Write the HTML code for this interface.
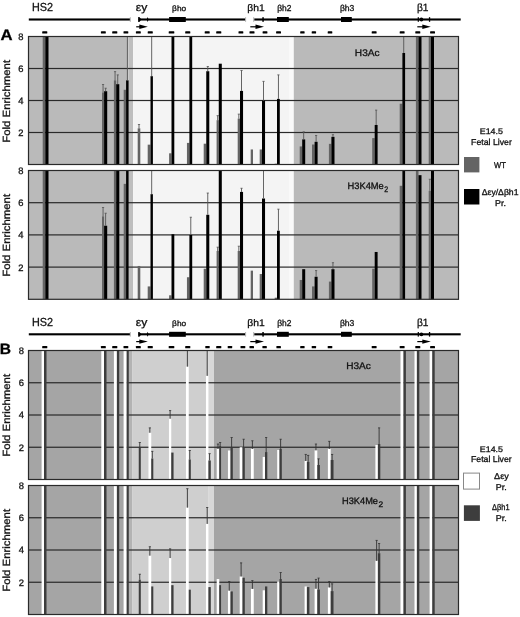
<!DOCTYPE html>
<html><head><meta charset="utf-8"><style>
html,body{margin:0;padding:0;background:#fff;width:520px;height:617px;overflow:hidden}
svg{display:block;filter:grayscale(1) blur(0.35px)} text{stroke:#111;stroke-width:0.3px}
</style></head><body>
<svg width="520" height="617" viewBox="0 0 520 617" font-family='"Liberation Sans", sans-serif' text-rendering="geometricPrecision">
<rect x="0.00" y="0.00" width="520.00" height="617.00" fill="#fff" />
<rect x="28.80" y="18.45" width="101.20" height="2.10" fill="#000" />
<rect x="138.50" y="18.45" width="106.80" height="2.10" fill="#000" />
<rect x="254.20" y="18.45" width="206.50" height="2.10" fill="#000" />
<rect x="129.80" y="17.20" width="1.00" height="4.60" fill="#b0b0b0" />
<rect x="245.10" y="17.20" width="1.00" height="4.60" fill="#b0b0b0" />
<rect x="253.20" y="17.20" width="1.00" height="4.60" fill="#b0b0b0" />
<polygon points="138.2,17.1 139.4,17.1 141.4,19.5 139.4,21.9 138.2,21.9" fill="#000"/>
<polygon points="147.6,17.0 148.6,19.5 147.6,22.0 146.7,19.5" fill="#000"/>
<rect x="169.10" y="17.00" width="16.70" height="5.00" fill="#000" />
<rect x="262.30" y="17.20" width="1.50" height="4.60" fill="#000" />
<rect x="277.00" y="17.00" width="11.80" height="5.00" fill="#000" />
<rect x="341.00" y="17.00" width="10.80" height="5.00" fill="#000" />
<rect x="417.70" y="17.20" width="1.20" height="4.60" fill="#000" />
<circle cx="421.4" cy="19.5" r="1.9" fill="#000"/>
<rect x="428.90" y="17.20" width="1.30" height="4.60" fill="#000" />
<rect x="136.20" y="26.20" width="5.60" height="1.20" fill="#000" />
<polygon points="139.3,24.6 147.8,26.8 139.3,29.0" fill="#000"/>
<rect x="250.30" y="26.20" width="7.70" height="1.20" fill="#000" />
<polygon points="255.5,24.6 264.0,26.8 255.5,29.0" fill="#000"/>
<rect x="417.30" y="26.20" width="7.50" height="1.20" fill="#000" />
<polygon points="422.3,24.6 430.8,26.8 422.3,29.0" fill="#000"/>
<text x="32.01" y="11.00" font-size="11.7" font-weight="normal" fill="#111" textLength="21.03" lengthAdjust="spacingAndGlyphs" >HS2</text>
<text x="135.78" y="10.80" font-size="11.2" font-weight="normal" fill="#111" textLength="11.54" lengthAdjust="spacingAndGlyphs" >εy</text>
<text x="172.12" y="10.80" font-size="7.8" font-weight="normal" fill="#111" textLength="14.03" lengthAdjust="spacingAndGlyphs" >βho</text>
<text x="247.28" y="10.80" font-size="9.6" font-weight="normal" fill="#111" textLength="17.42" lengthAdjust="spacingAndGlyphs" >βh1</text>
<text x="277.22" y="11.40" font-size="8.6" font-weight="normal" fill="#111" textLength="14.21" lengthAdjust="spacingAndGlyphs" >βh2</text>
<text x="339.91" y="11.40" font-size="8.6" font-weight="normal" fill="#111" textLength="14.47" lengthAdjust="spacingAndGlyphs" >βh3</text>
<text x="417.00" y="10.80" font-size="10.5" font-weight="normal" fill="#111" textLength="11.50" lengthAdjust="spacingAndGlyphs" >β1</text>
<rect x="42.20" y="31.15" width="5.10" height="2.40" fill="#000" rx="0.6"/>
<rect x="100.90" y="31.15" width="4.90" height="2.40" fill="#000" rx="0.6"/>
<rect x="112.20" y="31.15" width="5.10" height="2.40" fill="#000" rx="0.6"/>
<rect x="123.50" y="31.15" width="4.80" height="2.40" fill="#000" rx="0.6"/>
<rect x="135.90" y="31.15" width="4.90" height="2.40" fill="#000" rx="0.6"/>
<rect x="147.70" y="31.15" width="5.10" height="2.40" fill="#000" rx="0.6"/>
<rect x="168.70" y="31.15" width="5.60" height="2.40" fill="#000" rx="0.6"/>
<rect x="185.20" y="31.15" width="5.10" height="2.40" fill="#000" rx="0.6"/>
<rect x="204.70" y="31.15" width="5.00" height="2.40" fill="#000" rx="0.6"/>
<rect x="216.20" y="31.15" width="5.10" height="2.40" fill="#000" rx="0.6"/>
<rect x="238.50" y="31.15" width="4.80" height="2.40" fill="#000" rx="0.6"/>
<rect x="249.50" y="31.15" width="5.00" height="2.40" fill="#000" rx="0.6"/>
<rect x="262.60" y="31.15" width="4.80" height="2.40" fill="#000" rx="0.6"/>
<rect x="276.10" y="31.15" width="4.90" height="2.40" fill="#000" rx="0.6"/>
<rect x="300.20" y="31.15" width="4.40" height="2.40" fill="#000" rx="0.6"/>
<rect x="311.70" y="31.15" width="4.40" height="2.40" fill="#000" rx="0.6"/>
<rect x="327.70" y="31.15" width="4.60" height="2.40" fill="#000" rx="0.6"/>
<rect x="371.70" y="31.15" width="4.90" height="2.40" fill="#000" rx="0.6"/>
<rect x="399.70" y="31.15" width="4.90" height="2.40" fill="#000" rx="0.6"/>
<rect x="415.30" y="31.15" width="5.00" height="2.40" fill="#000" rx="0.6"/>
<rect x="430.10" y="31.15" width="4.90" height="2.40" fill="#000" rx="0.6"/>
<text x="0.45" y="39.85" font-size="15.3" font-weight="bold" fill="#000" textLength="12.09" lengthAdjust="spacingAndGlyphs" >A</text>
<rect x="28.50" y="36.50" width="99.80" height="128.00" fill="#bababa" />
<rect x="128.30" y="36.50" width="4.80" height="128.00" fill="#bebebe" />
<rect x="133.10" y="36.50" width="156.50" height="128.00" fill="#f4f4f4" />
<rect x="289.60" y="36.50" width="4.20" height="128.00" fill="#fafafa" />
<rect x="293.80" y="36.50" width="164.70" height="128.00" fill="#bababa" />
<rect x="28.50" y="131.90" width="430.00" height="1.20" fill="#2a2a2a" />
<rect x="28.50" y="99.90" width="430.00" height="1.20" fill="#2a2a2a" />
<rect x="28.50" y="67.90" width="430.00" height="1.20" fill="#2a2a2a" />
<rect x="42.70" y="36.50" width="2.60" height="128.00" fill="#646464" />
<rect x="45.30" y="36.50" width="3.20" height="128.00" fill="#000000" />
<rect x="102.00" y="92.50" width="2.10" height="72.00" fill="#646464" />
<rect x="102.60" y="84.50" width="0.90" height="8.00" fill="#555" />
<rect x="101.95" y="84.10" width="2.20" height="0.80" fill="#555" />
<rect x="104.10" y="91.22" width="3.10" height="73.28" fill="#000000" />
<rect x="105.20" y="88.18" width="0.90" height="3.04" fill="#555" />
<rect x="104.55" y="87.78" width="2.20" height="0.80" fill="#555" />
<rect x="113.90" y="80.34" width="2.30" height="84.16" fill="#646464" />
<rect x="114.60" y="71.70" width="0.90" height="8.64" fill="#555" />
<rect x="113.95" y="71.30" width="2.20" height="0.80" fill="#555" />
<rect x="116.20" y="84.18" width="3.10" height="80.32" fill="#000000" />
<rect x="117.30" y="74.90" width="0.90" height="9.28" fill="#555" />
<rect x="116.65" y="74.50" width="2.20" height="0.80" fill="#555" />
<rect x="123.70" y="89.78" width="2.40" height="74.72" fill="#646464" />
<rect x="126.10" y="80.34" width="2.50" height="84.16" fill="#000000" />
<rect x="126.90" y="36.50" width="0.90" height="43.84" fill="#555" />
<rect x="137.70" y="128.34" width="2.60" height="36.16" fill="#646464" />
<rect x="138.55" y="124.50" width="0.90" height="3.84" fill="#555" />
<rect x="137.90" y="124.10" width="2.20" height="0.80" fill="#555" />
<rect x="147.70" y="144.66" width="2.80" height="19.84" fill="#646464" />
<rect x="150.50" y="76.18" width="2.40" height="88.32" fill="#000000" />
<rect x="151.25" y="36.50" width="0.90" height="39.68" fill="#555" />
<rect x="169.10" y="153.30" width="2.40" height="11.20" fill="#646464" />
<rect x="171.50" y="36.50" width="2.80" height="128.00" fill="#000000" />
<rect x="186.95" y="142.90" width="2.45" height="21.60" fill="#646464" />
<rect x="189.40" y="36.50" width="2.80" height="128.00" fill="#000000" />
<rect x="203.70" y="143.70" width="2.55" height="20.80" fill="#646464" />
<rect x="206.25" y="71.22" width="3.05" height="93.28" fill="#000000" />
<rect x="207.33" y="66.42" width="0.90" height="4.80" fill="#555" />
<rect x="206.68" y="66.02" width="2.20" height="0.80" fill="#555" />
<rect x="216.60" y="120.18" width="2.15" height="44.32" fill="#646464" />
<rect x="217.23" y="115.70" width="0.90" height="4.48" fill="#555" />
<rect x="216.58" y="115.30" width="2.20" height="0.80" fill="#555" />
<rect x="218.75" y="63.70" width="3.05" height="100.80" fill="#000000" />
<rect x="237.70" y="118.58" width="2.30" height="45.92" fill="#646464" />
<rect x="238.40" y="114.10" width="0.90" height="4.48" fill="#555" />
<rect x="237.75" y="113.70" width="2.20" height="0.80" fill="#555" />
<rect x="240.00" y="90.90" width="3.05" height="73.60" fill="#000000" />
<rect x="241.08" y="70.42" width="0.90" height="20.48" fill="#555" />
<rect x="240.43" y="70.02" width="2.20" height="0.80" fill="#555" />
<rect x="250.70" y="149.46" width="2.30" height="15.04" fill="#646464" />
<rect x="259.70" y="149.46" width="2.30" height="15.04" fill="#646464" />
<rect x="262.00" y="100.66" width="3.05" height="63.84" fill="#000000" />
<rect x="263.07" y="81.30" width="0.90" height="19.36" fill="#555" />
<rect x="262.42" y="80.90" width="2.20" height="0.80" fill="#555" />
<rect x="274.70" y="163.70" width="2.30" height="0.80" fill="#646464" />
<rect x="277.00" y="98.90" width="2.80" height="65.60" fill="#000000" />
<rect x="277.95" y="74.90" width="0.90" height="24.00" fill="#555" />
<rect x="277.30" y="74.50" width="2.20" height="0.80" fill="#555" />
<rect x="299.70" y="146.42" width="2.50" height="18.08" fill="#646464" />
<rect x="302.20" y="139.38" width="3.00" height="25.12" fill="#000000" />
<rect x="303.25" y="131.86" width="0.90" height="7.52" fill="#555" />
<rect x="302.60" y="131.46" width="2.20" height="0.80" fill="#555" />
<rect x="312.00" y="144.50" width="2.60" height="20.00" fill="#646464" />
<rect x="314.60" y="141.78" width="3.00" height="22.72" fill="#000000" />
<rect x="315.65" y="135.38" width="0.90" height="6.40" fill="#555" />
<rect x="315.00" y="134.98" width="2.20" height="0.80" fill="#555" />
<rect x="328.90" y="143.86" width="2.50" height="20.64" fill="#646464" />
<rect x="331.40" y="136.82" width="3.10" height="27.68" fill="#000000" />
<rect x="332.50" y="134.74" width="0.90" height="2.08" fill="#555" />
<rect x="331.85" y="134.34" width="2.20" height="0.80" fill="#555" />
<rect x="372.20" y="138.10" width="2.50" height="26.40" fill="#646464" />
<rect x="374.70" y="124.98" width="2.90" height="39.52" fill="#000000" />
<rect x="375.70" y="110.10" width="0.90" height="14.88" fill="#555" />
<rect x="375.05" y="109.70" width="2.20" height="0.80" fill="#555" />
<rect x="399.70" y="103.70" width="2.70" height="60.80" fill="#646464" />
<rect x="402.40" y="52.98" width="2.70" height="111.52" fill="#000000" />
<rect x="403.30" y="36.50" width="0.90" height="16.48" fill="#555" />
<rect x="415.90" y="36.50" width="2.60" height="128.00" fill="#646464" />
<rect x="418.50" y="36.50" width="3.00" height="128.00" fill="#000000" />
<rect x="428.70" y="36.50" width="2.30" height="128.00" fill="#646464" />
<rect x="431.00" y="36.50" width="3.00" height="128.00" fill="#000000" />
<rect x="28.5" y="36.5" width="430.0" height="128.0" fill="none" stroke="#2a2a2a" stroke-width="1.2"/>
<text x="18.34" y="135.90" font-size="9.4" font-weight="normal" fill="#111">2</text>
<text x="18.15" y="103.90" font-size="9.4" font-weight="normal" fill="#111">4</text>
<text x="18.29" y="71.90" font-size="9.4" font-weight="normal" fill="#111">6</text>
<text x="18.28" y="39.90" font-size="9.4" font-weight="normal" fill="#111">8</text>
<text x="-0.93" y="0" font-size="10.4" fill="#111" textLength="82.82" lengthAdjust="spacingAndGlyphs" transform="translate(10 141.80) rotate(-90)">Fold Enrichment</text>
<rect x="28.50" y="170.50" width="99.80" height="128.80" fill="#bababa" />
<rect x="128.30" y="170.50" width="4.80" height="128.80" fill="#bebebe" />
<rect x="133.10" y="170.50" width="156.50" height="128.80" fill="#f4f4f4" />
<rect x="289.60" y="170.50" width="4.20" height="128.80" fill="#fafafa" />
<rect x="293.80" y="170.50" width="164.70" height="128.80" fill="#bababa" />
<rect x="28.50" y="266.50" width="430.00" height="1.20" fill="#2a2a2a" />
<rect x="28.50" y="234.30" width="430.00" height="1.20" fill="#2a2a2a" />
<rect x="28.50" y="202.10" width="430.00" height="1.20" fill="#2a2a2a" />
<rect x="42.70" y="170.50" width="2.60" height="128.80" fill="#646464" />
<rect x="45.30" y="170.50" width="3.20" height="128.80" fill="#000000" />
<rect x="102.00" y="216.38" width="2.10" height="82.92" fill="#646464" />
<rect x="102.60" y="207.53" width="0.90" height="8.85" fill="#555" />
<rect x="101.95" y="207.13" width="2.20" height="0.80" fill="#555" />
<rect x="104.10" y="225.72" width="3.10" height="73.58" fill="#000000" />
<rect x="105.20" y="213.17" width="0.90" height="12.56" fill="#555" />
<rect x="104.55" y="212.77" width="2.20" height="0.80" fill="#555" />
<rect x="113.90" y="170.50" width="2.30" height="128.80" fill="#646464" />
<rect x="116.20" y="170.50" width="3.10" height="128.80" fill="#000000" />
<rect x="123.70" y="183.86" width="2.40" height="115.44" fill="#646464" />
<rect x="126.10" y="170.50" width="2.50" height="128.80" fill="#000000" />
<rect x="137.70" y="265.97" width="2.60" height="33.33" fill="#646464" />
<rect x="147.70" y="286.42" width="2.80" height="12.88" fill="#646464" />
<rect x="150.50" y="194.17" width="2.40" height="105.13" fill="#000000" />
<rect x="151.25" y="170.50" width="0.90" height="23.67" fill="#555" />
<rect x="169.10" y="295.28" width="2.40" height="4.02" fill="#646464" />
<rect x="171.50" y="234.26" width="2.80" height="65.04" fill="#000000" />
<rect x="186.95" y="277.24" width="2.45" height="22.06" fill="#646464" />
<rect x="189.40" y="234.90" width="2.80" height="64.40" fill="#000000" />
<rect x="190.35" y="217.19" width="0.90" height="17.71" fill="#555" />
<rect x="189.70" y="216.79" width="2.20" height="0.80" fill="#555" />
<rect x="203.70" y="268.71" width="2.55" height="30.59" fill="#646464" />
<rect x="206.25" y="214.78" width="3.05" height="84.53" fill="#000000" />
<rect x="207.33" y="193.04" width="0.90" height="21.73" fill="#555" />
<rect x="206.68" y="192.64" width="2.20" height="0.80" fill="#555" />
<rect x="216.60" y="251.00" width="2.15" height="48.30" fill="#646464" />
<rect x="217.23" y="247.14" width="0.90" height="3.86" fill="#555" />
<rect x="216.58" y="246.74" width="2.20" height="0.80" fill="#555" />
<rect x="218.75" y="170.50" width="3.05" height="128.80" fill="#000000" />
<rect x="237.70" y="251.00" width="2.30" height="48.30" fill="#646464" />
<rect x="238.40" y="246.17" width="0.90" height="4.83" fill="#555" />
<rect x="237.75" y="245.77" width="2.20" height="0.80" fill="#555" />
<rect x="240.00" y="191.91" width="3.05" height="107.39" fill="#000000" />
<rect x="241.08" y="188.21" width="0.90" height="3.70" fill="#555" />
<rect x="240.43" y="187.81" width="2.20" height="0.80" fill="#555" />
<rect x="250.70" y="270.64" width="2.30" height="28.66" fill="#646464" />
<rect x="259.70" y="274.02" width="2.30" height="25.28" fill="#646464" />
<rect x="262.00" y="198.51" width="3.05" height="100.79" fill="#000000" />
<rect x="263.07" y="170.50" width="0.90" height="28.01" fill="#555" />
<rect x="274.70" y="297.69" width="2.30" height="1.61" fill="#646464" />
<rect x="277.00" y="230.71" width="2.80" height="68.59" fill="#000000" />
<rect x="277.95" y="209.14" width="0.90" height="21.57" fill="#555" />
<rect x="277.30" y="208.74" width="2.20" height="0.80" fill="#555" />
<rect x="299.70" y="279.98" width="2.50" height="19.32" fill="#646464" />
<rect x="302.20" y="269.19" width="3.00" height="30.11" fill="#000000" />
<rect x="312.00" y="286.42" width="2.60" height="12.88" fill="#646464" />
<rect x="314.60" y="276.76" width="3.00" height="22.54" fill="#000000" />
<rect x="315.65" y="270.64" width="0.90" height="6.12" fill="#555" />
<rect x="315.00" y="270.24" width="2.20" height="0.80" fill="#555" />
<rect x="328.90" y="281.59" width="2.50" height="17.71" fill="#646464" />
<rect x="331.40" y="269.19" width="3.10" height="30.11" fill="#000000" />
<rect x="332.50" y="262.75" width="0.90" height="6.44" fill="#555" />
<rect x="331.85" y="262.35" width="2.20" height="0.80" fill="#555" />
<rect x="372.20" y="268.71" width="2.50" height="30.59" fill="#646464" />
<rect x="374.70" y="251.97" width="2.90" height="47.33" fill="#000000" />
<rect x="399.70" y="185.80" width="2.70" height="113.50" fill="#646464" />
<rect x="402.40" y="170.50" width="2.70" height="128.80" fill="#000000" />
<rect x="415.90" y="170.50" width="2.60" height="128.80" fill="#646464" />
<rect x="418.50" y="175.17" width="3.00" height="124.13" fill="#000000" />
<rect x="428.70" y="190.79" width="2.30" height="108.51" fill="#646464" />
<rect x="429.40" y="179.19" width="0.90" height="11.59" fill="#555" />
<rect x="428.75" y="178.79" width="2.20" height="0.80" fill="#555" />
<rect x="431.00" y="170.50" width="3.00" height="128.80" fill="#000000" />
<rect x="28.5" y="170.5" width="430.0" height="128.8" fill="none" stroke="#2a2a2a" stroke-width="1.2"/>
<text x="18.34" y="270.50" font-size="9.4" font-weight="normal" fill="#111">2</text>
<text x="18.15" y="238.30" font-size="9.4" font-weight="normal" fill="#111">4</text>
<text x="18.29" y="206.10" font-size="9.4" font-weight="normal" fill="#111">6</text>
<text x="18.28" y="173.90" font-size="9.4" font-weight="normal" fill="#111">8</text>
<text x="-0.93" y="0" font-size="10.4" fill="#111" textLength="82.82" lengthAdjust="spacingAndGlyphs" transform="translate(10 275.80) rotate(-90)">Fold Enrichment</text>
<text x="354.87" y="55.80" font-size="9.5" font-weight="normal" fill="#111" textLength="24.69" lengthAdjust="spacingAndGlyphs" >H3Ac</text>
<text x="347.54" y="189.00" font-size="9.4" font-weight="normal" fill="#111" textLength="36.28" lengthAdjust="spacingAndGlyphs" >H3K4Me</text>
<text x="384.15" y="191.90" font-size="8" font-weight="normal" fill="#111" textLength="3.91" lengthAdjust="spacingAndGlyphs" >2</text>
<text x="479.77" y="134.10" font-size="8.1" font-weight="normal" fill="#111" textLength="23.20" lengthAdjust="spacingAndGlyphs" >E14.5</text>
<text x="471.08" y="144.70" font-size="8.6" font-weight="normal" fill="#111" textLength="40.81" lengthAdjust="spacingAndGlyphs" >Fetal Liver</text>
<rect x="464.00" y="157.00" width="15.40" height="15.40" fill="#646464" />
<text x="494.07" y="167.70" font-size="8.4" font-weight="normal" fill="#111" textLength="11.81" lengthAdjust="spacingAndGlyphs" >WT</text>
<rect x="464.00" y="189.00" width="15.40" height="15.50" fill="#000" />
<text x="481.74" y="195.10" font-size="8.4" font-weight="normal" fill="#111" textLength="36.78" lengthAdjust="spacingAndGlyphs" >Δεy/Δβh1</text>
<text x="495.10" y="205.80" font-size="8.4" font-weight="normal" fill="#111" textLength="10.88" lengthAdjust="spacingAndGlyphs" >Pr.</text>
<rect x="28.80" y="333.25" width="101.20" height="2.10" fill="#000" />
<rect x="138.50" y="333.25" width="106.80" height="2.10" fill="#000" />
<rect x="254.20" y="333.25" width="206.50" height="2.10" fill="#000" />
<rect x="129.80" y="332.00" width="1.00" height="4.60" fill="#b0b0b0" />
<rect x="245.10" y="332.00" width="1.00" height="4.60" fill="#b0b0b0" />
<rect x="253.20" y="332.00" width="1.00" height="4.60" fill="#b0b0b0" />
<polygon points="138.2,331.90000000000003 139.4,331.90000000000003 141.4,334.3 139.4,336.7 138.2,336.7" fill="#000"/>
<polygon points="147.6,331.8 148.6,334.3 147.6,336.8 146.7,334.3" fill="#000"/>
<rect x="169.10" y="331.80" width="16.70" height="5.00" fill="#000" />
<rect x="262.30" y="332.00" width="1.50" height="4.60" fill="#000" />
<rect x="277.00" y="331.80" width="11.80" height="5.00" fill="#000" />
<rect x="341.00" y="331.80" width="10.80" height="5.00" fill="#000" />
<rect x="417.70" y="332.00" width="1.20" height="4.60" fill="#000" />
<circle cx="421.4" cy="334.3" r="1.9" fill="#000"/>
<rect x="428.90" y="332.00" width="1.30" height="4.60" fill="#000" />
<rect x="136.20" y="341.00" width="5.60" height="1.20" fill="#000" />
<polygon points="139.3,339.40000000000003 147.8,341.6 139.3,343.8" fill="#000"/>
<rect x="250.30" y="341.00" width="7.70" height="1.20" fill="#000" />
<polygon points="255.5,339.40000000000003 264.0,341.6 255.5,343.8" fill="#000"/>
<rect x="417.30" y="341.00" width="7.50" height="1.20" fill="#000" />
<polygon points="422.3,339.40000000000003 430.8,341.6 422.3,343.8" fill="#000"/>
<text x="32.01" y="325.80" font-size="11.7" font-weight="normal" fill="#111" textLength="21.03" lengthAdjust="spacingAndGlyphs" >HS2</text>
<text x="135.78" y="325.60" font-size="11.2" font-weight="normal" fill="#111" textLength="11.54" lengthAdjust="spacingAndGlyphs" >εy</text>
<text x="172.12" y="325.60" font-size="7.8" font-weight="normal" fill="#111" textLength="14.03" lengthAdjust="spacingAndGlyphs" >βho</text>
<text x="247.28" y="325.60" font-size="9.6" font-weight="normal" fill="#111" textLength="17.42" lengthAdjust="spacingAndGlyphs" >βh1</text>
<text x="277.22" y="326.20" font-size="8.6" font-weight="normal" fill="#111" textLength="14.21" lengthAdjust="spacingAndGlyphs" >βh2</text>
<text x="339.91" y="326.20" font-size="8.6" font-weight="normal" fill="#111" textLength="14.47" lengthAdjust="spacingAndGlyphs" >βh3</text>
<text x="417.00" y="325.60" font-size="10.5" font-weight="normal" fill="#111" textLength="11.50" lengthAdjust="spacingAndGlyphs" >β1</text>
<rect x="42.20" y="345.95" width="5.10" height="2.40" fill="#000" rx="0.6"/>
<rect x="100.90" y="345.95" width="4.90" height="2.40" fill="#000" rx="0.6"/>
<rect x="112.20" y="345.95" width="5.10" height="2.40" fill="#000" rx="0.6"/>
<rect x="123.50" y="345.95" width="4.80" height="2.40" fill="#000" rx="0.6"/>
<rect x="135.90" y="345.95" width="4.90" height="2.40" fill="#000" rx="0.6"/>
<rect x="147.70" y="345.95" width="5.10" height="2.40" fill="#000" rx="0.6"/>
<rect x="168.70" y="345.95" width="5.60" height="2.40" fill="#000" rx="0.6"/>
<rect x="185.20" y="345.95" width="5.10" height="2.40" fill="#000" rx="0.6"/>
<rect x="205.30" y="345.95" width="4.40" height="2.40" fill="#000" rx="0.6"/>
<rect x="216.20" y="345.95" width="5.10" height="2.40" fill="#000" rx="0.6"/>
<rect x="227.70" y="345.95" width="4.50" height="2.40" fill="#000" rx="0.6"/>
<rect x="240.50" y="345.95" width="4.80" height="2.40" fill="#000" rx="0.6"/>
<rect x="249.50" y="345.95" width="4.50" height="2.40" fill="#000" rx="0.6"/>
<rect x="262.40" y="345.95" width="4.40" height="2.40" fill="#000" rx="0.6"/>
<rect x="276.40" y="345.95" width="4.50" height="2.40" fill="#000" rx="0.6"/>
<rect x="300.20" y="345.95" width="4.40" height="2.40" fill="#000" rx="0.6"/>
<rect x="311.70" y="345.95" width="4.40" height="2.40" fill="#000" rx="0.6"/>
<rect x="327.70" y="345.95" width="4.60" height="2.40" fill="#000" rx="0.6"/>
<rect x="371.70" y="345.95" width="4.90" height="2.40" fill="#000" rx="0.6"/>
<rect x="399.70" y="345.95" width="4.90" height="2.40" fill="#000" rx="0.6"/>
<rect x="415.30" y="345.95" width="5.00" height="2.40" fill="#000" rx="0.6"/>
<rect x="430.10" y="345.95" width="4.90" height="2.40" fill="#000" rx="0.6"/>
<text x="-0.18" y="354.40" font-size="14.9" font-weight="bold" fill="#000" textLength="11.28" lengthAdjust="spacingAndGlyphs" >B</text>
<rect x="28.50" y="350.50" width="100.00" height="129.00" fill="#a5a5a5" />
<rect x="128.50" y="350.50" width="3.60" height="129.00" fill="#b3b3b3" />
<rect x="132.10" y="350.50" width="76.00" height="129.00" fill="#cfcfcf" />
<rect x="208.10" y="350.50" width="5.90" height="129.00" fill="#d8d8d8" />
<rect x="214.00" y="350.50" width="244.50" height="129.00" fill="#a5a5a5" />
<rect x="28.50" y="446.65" width="430.00" height="1.20" fill="#2a2a2a" />
<rect x="28.50" y="414.40" width="430.00" height="1.20" fill="#2a2a2a" />
<rect x="28.50" y="382.15" width="430.00" height="1.20" fill="#2a2a2a" />
<rect x="41.60" y="350.50" width="2.40" height="129.00" fill="#ffffff" />
<rect x="44.00" y="350.50" width="2.50" height="129.00" fill="#3d3d3d" />
<rect x="101.30" y="350.50" width="2.70" height="129.00" fill="#ffffff" />
<rect x="104.00" y="350.50" width="2.50" height="129.00" fill="#3d3d3d" />
<rect x="113.90" y="350.50" width="3.00" height="129.00" fill="#ffffff" />
<rect x="116.90" y="350.50" width="2.30" height="129.00" fill="#3d3d3d" />
<rect x="123.60" y="350.50" width="3.10" height="129.00" fill="#ffffff" />
<rect x="126.70" y="350.50" width="2.10" height="129.00" fill="#3d3d3d" />
<rect x="138.75" y="447.25" width="2.05" height="32.25" fill="#3d3d3d" />
<rect x="139.33" y="442.41" width="0.90" height="4.84" fill="#333" />
<rect x="138.68" y="442.01" width="2.20" height="0.80" fill="#333" />
<rect x="148.45" y="432.74" width="2.80" height="46.76" fill="#ffffff" />
<rect x="149.40" y="427.90" width="0.90" height="4.84" fill="#333" />
<rect x="148.75" y="427.50" width="2.20" height="0.80" fill="#333" />
<rect x="151.25" y="458.54" width="2.05" height="20.96" fill="#3d3d3d" />
<rect x="151.83" y="451.28" width="0.90" height="7.26" fill="#333" />
<rect x="151.18" y="450.88" width="2.20" height="0.80" fill="#333" />
<rect x="168.95" y="418.71" width="2.30" height="60.79" fill="#ffffff" />
<rect x="169.65" y="410.65" width="0.90" height="8.06" fill="#333" />
<rect x="169.00" y="410.25" width="2.20" height="0.80" fill="#333" />
<rect x="171.25" y="452.57" width="2.30" height="26.93" fill="#3d3d3d" />
<rect x="185.95" y="366.62" width="2.80" height="112.88" fill="#ffffff" />
<rect x="186.90" y="350.50" width="0.90" height="16.12" fill="#333" />
<rect x="188.75" y="459.50" width="2.05" height="20.00" fill="#3d3d3d" />
<rect x="189.33" y="450.48" width="0.90" height="9.03" fill="#333" />
<rect x="188.68" y="450.08" width="2.20" height="0.80" fill="#333" />
<rect x="205.95" y="375.82" width="2.45" height="103.68" fill="#ffffff" />
<rect x="206.73" y="350.50" width="0.90" height="25.32" fill="#333" />
<rect x="208.40" y="460.47" width="2.40" height="19.03" fill="#3d3d3d" />
<rect x="209.15" y="453.70" width="0.90" height="6.77" fill="#333" />
<rect x="208.50" y="453.30" width="2.20" height="0.80" fill="#333" />
<rect x="216.70" y="448.86" width="2.55" height="30.64" fill="#ffffff" />
<rect x="217.53" y="444.02" width="0.90" height="4.84" fill="#333" />
<rect x="216.88" y="443.62" width="2.20" height="0.80" fill="#333" />
<rect x="219.25" y="445.64" width="1.80" height="33.86" fill="#3d3d3d" />
<rect x="219.70" y="442.41" width="0.90" height="3.22" fill="#333" />
<rect x="219.05" y="442.01" width="2.20" height="0.80" fill="#333" />
<rect x="227.95" y="450.48" width="2.55" height="29.02" fill="#ffffff" />
<rect x="230.50" y="447.25" width="2.30" height="32.25" fill="#3d3d3d" />
<rect x="231.20" y="437.57" width="0.90" height="9.68" fill="#333" />
<rect x="230.55" y="437.18" width="2.20" height="0.80" fill="#333" />
<rect x="239.70" y="447.25" width="2.80" height="32.25" fill="#ffffff" />
<rect x="242.50" y="447.25" width="2.30" height="32.25" fill="#3d3d3d" />
<rect x="243.20" y="439.19" width="0.90" height="8.06" fill="#333" />
<rect x="242.55" y="438.79" width="2.20" height="0.80" fill="#333" />
<rect x="250.95" y="448.86" width="2.80" height="30.64" fill="#ffffff" />
<rect x="251.90" y="440.80" width="0.90" height="8.06" fill="#333" />
<rect x="251.25" y="440.40" width="2.20" height="0.80" fill="#333" />
<rect x="262.70" y="456.93" width="2.30" height="22.57" fill="#ffffff" />
<rect x="265.00" y="452.09" width="2.30" height="27.41" fill="#3d3d3d" />
<rect x="265.70" y="437.57" width="0.90" height="14.51" fill="#333" />
<rect x="265.05" y="437.18" width="2.20" height="0.80" fill="#333" />
<rect x="277.20" y="449.99" width="2.30" height="29.51" fill="#ffffff" />
<rect x="279.50" y="448.86" width="2.30" height="30.64" fill="#3d3d3d" />
<rect x="280.20" y="439.19" width="0.90" height="9.68" fill="#333" />
<rect x="279.55" y="438.79" width="2.20" height="0.80" fill="#333" />
<rect x="304.60" y="460.96" width="2.30" height="18.54" fill="#ffffff" />
<rect x="305.30" y="454.35" width="0.90" height="6.61" fill="#333" />
<rect x="304.65" y="453.95" width="2.20" height="0.80" fill="#333" />
<rect x="306.90" y="461.92" width="2.50" height="17.58" fill="#3d3d3d" />
<rect x="307.70" y="455.31" width="0.90" height="6.61" fill="#333" />
<rect x="307.05" y="454.91" width="2.20" height="0.80" fill="#333" />
<rect x="314.60" y="450.31" width="2.70" height="29.19" fill="#ffffff" />
<rect x="315.50" y="444.02" width="0.90" height="6.29" fill="#333" />
<rect x="314.85" y="443.62" width="2.20" height="0.80" fill="#333" />
<rect x="317.30" y="464.99" width="2.60" height="14.51" fill="#3d3d3d" />
<rect x="318.15" y="458.86" width="0.90" height="6.13" fill="#333" />
<rect x="317.50" y="458.46" width="2.20" height="0.80" fill="#333" />
<rect x="327.90" y="448.86" width="2.80" height="30.64" fill="#ffffff" />
<rect x="328.85" y="441.28" width="0.90" height="7.58" fill="#333" />
<rect x="328.20" y="440.88" width="2.20" height="0.80" fill="#333" />
<rect x="330.70" y="459.99" width="2.80" height="19.51" fill="#3d3d3d" />
<rect x="331.65" y="454.35" width="0.90" height="5.64" fill="#333" />
<rect x="331.00" y="453.95" width="2.20" height="0.80" fill="#333" />
<rect x="375.40" y="444.99" width="2.50" height="34.51" fill="#ffffff" />
<rect x="377.90" y="444.02" width="2.40" height="35.48" fill="#3d3d3d" />
<rect x="378.65" y="427.90" width="0.90" height="16.12" fill="#333" />
<rect x="378.00" y="427.50" width="2.20" height="0.80" fill="#333" />
<rect x="400.50" y="350.50" width="3.00" height="129.00" fill="#ffffff" />
<rect x="403.50" y="350.50" width="2.40" height="129.00" fill="#3d3d3d" />
<rect x="414.50" y="350.50" width="2.40" height="129.00" fill="#ffffff" />
<rect x="416.90" y="350.50" width="2.40" height="129.00" fill="#3d3d3d" />
<rect x="429.60" y="350.50" width="2.70" height="129.00" fill="#ffffff" />
<rect x="432.30" y="350.50" width="2.40" height="129.00" fill="#3d3d3d" />
<rect x="28.5" y="350.5" width="430.0" height="129.0" fill="none" stroke="#2a2a2a" stroke-width="1.2"/>
<text x="18.84" y="450.65" font-size="9.4" font-weight="normal" fill="#111">2</text>
<text x="18.65" y="418.40" font-size="9.4" font-weight="normal" fill="#111">4</text>
<text x="18.79" y="386.15" font-size="9.4" font-weight="normal" fill="#111">6</text>
<text x="18.78" y="353.90" font-size="9.4" font-weight="normal" fill="#111">8</text>
<text x="-0.93" y="0" font-size="10.4" fill="#111" textLength="82.82" lengthAdjust="spacingAndGlyphs" transform="translate(10 455.80) rotate(-90)">Fold Enrichment</text>
<rect x="28.50" y="485.50" width="100.00" height="129.00" fill="#a5a5a5" />
<rect x="128.50" y="485.50" width="3.60" height="129.00" fill="#b3b3b3" />
<rect x="132.10" y="485.50" width="76.00" height="129.00" fill="#cfcfcf" />
<rect x="208.10" y="485.50" width="5.90" height="129.00" fill="#d8d8d8" />
<rect x="214.00" y="485.50" width="244.50" height="129.00" fill="#a5a5a5" />
<rect x="28.50" y="581.65" width="430.00" height="1.20" fill="#2a2a2a" />
<rect x="28.50" y="549.40" width="430.00" height="1.20" fill="#2a2a2a" />
<rect x="28.50" y="517.15" width="430.00" height="1.20" fill="#2a2a2a" />
<rect x="41.60" y="485.50" width="2.40" height="129.00" fill="#ffffff" />
<rect x="44.00" y="485.50" width="2.50" height="129.00" fill="#3d3d3d" />
<rect x="101.30" y="485.50" width="2.70" height="129.00" fill="#ffffff" />
<rect x="104.00" y="485.50" width="2.50" height="129.00" fill="#3d3d3d" />
<rect x="113.90" y="485.50" width="3.00" height="129.00" fill="#ffffff" />
<rect x="116.90" y="485.50" width="2.30" height="129.00" fill="#3d3d3d" />
<rect x="123.60" y="485.50" width="3.10" height="129.00" fill="#ffffff" />
<rect x="126.70" y="485.50" width="2.10" height="129.00" fill="#3d3d3d" />
<rect x="138.75" y="579.67" width="2.05" height="34.83" fill="#3d3d3d" />
<rect x="139.33" y="574.19" width="0.90" height="5.48" fill="#333" />
<rect x="138.68" y="573.79" width="2.20" height="0.80" fill="#333" />
<rect x="148.45" y="555.64" width="2.80" height="58.86" fill="#ffffff" />
<rect x="149.40" y="546.77" width="0.90" height="8.87" fill="#333" />
<rect x="148.75" y="546.38" width="2.20" height="0.80" fill="#333" />
<rect x="151.25" y="586.44" width="2.05" height="28.06" fill="#3d3d3d" />
<rect x="168.95" y="558.06" width="2.30" height="56.44" fill="#ffffff" />
<rect x="169.65" y="548.87" width="0.90" height="9.19" fill="#333" />
<rect x="169.00" y="548.47" width="2.20" height="0.80" fill="#333" />
<rect x="171.25" y="585.15" width="2.30" height="29.35" fill="#3d3d3d" />
<rect x="185.95" y="507.59" width="2.80" height="106.91" fill="#ffffff" />
<rect x="186.90" y="488.73" width="0.90" height="18.87" fill="#333" />
<rect x="186.25" y="488.33" width="2.20" height="0.80" fill="#333" />
<rect x="188.75" y="589.67" width="2.05" height="24.83" fill="#3d3d3d" />
<rect x="205.95" y="523.88" width="2.45" height="90.62" fill="#ffffff" />
<rect x="206.73" y="507.59" width="0.90" height="16.29" fill="#333" />
<rect x="206.08" y="507.19" width="2.20" height="0.80" fill="#333" />
<rect x="208.40" y="587.09" width="2.40" height="27.41" fill="#3d3d3d" />
<rect x="216.70" y="579.02" width="2.55" height="35.48" fill="#ffffff" />
<rect x="219.25" y="585.15" width="1.80" height="29.35" fill="#3d3d3d" />
<rect x="227.95" y="590.63" width="2.55" height="23.87" fill="#ffffff" />
<rect x="228.78" y="581.44" width="0.90" height="9.19" fill="#333" />
<rect x="228.12" y="581.04" width="2.20" height="0.80" fill="#333" />
<rect x="230.50" y="591.44" width="2.30" height="23.06" fill="#3d3d3d" />
<rect x="239.70" y="576.45" width="2.80" height="38.05" fill="#ffffff" />
<rect x="240.65" y="562.90" width="0.90" height="13.55" fill="#333" />
<rect x="240.00" y="562.50" width="2.20" height="0.80" fill="#333" />
<rect x="242.50" y="577.74" width="2.30" height="36.76" fill="#3d3d3d" />
<rect x="250.95" y="588.86" width="2.80" height="25.64" fill="#ffffff" />
<rect x="251.90" y="580.64" width="0.90" height="8.22" fill="#333" />
<rect x="251.25" y="580.24" width="2.20" height="0.80" fill="#333" />
<rect x="262.70" y="590.31" width="2.30" height="24.19" fill="#ffffff" />
<rect x="265.00" y="586.44" width="2.30" height="28.06" fill="#3d3d3d" />
<rect x="277.20" y="581.44" width="2.30" height="33.06" fill="#ffffff" />
<rect x="279.50" y="579.02" width="2.30" height="35.48" fill="#3d3d3d" />
<rect x="280.20" y="572.58" width="0.90" height="6.45" fill="#333" />
<rect x="279.55" y="572.18" width="2.20" height="0.80" fill="#333" />
<rect x="304.60" y="586.44" width="2.30" height="28.06" fill="#ffffff" />
<rect x="306.90" y="587.09" width="2.50" height="27.41" fill="#3d3d3d" />
<rect x="314.60" y="588.70" width="2.70" height="25.80" fill="#ffffff" />
<rect x="315.50" y="579.35" width="0.90" height="9.35" fill="#333" />
<rect x="314.85" y="578.95" width="2.20" height="0.80" fill="#333" />
<rect x="317.30" y="589.51" width="2.60" height="24.99" fill="#3d3d3d" />
<rect x="318.15" y="578.06" width="0.90" height="11.45" fill="#333" />
<rect x="317.50" y="577.66" width="2.20" height="0.80" fill="#333" />
<rect x="327.90" y="587.41" width="2.80" height="27.09" fill="#ffffff" />
<rect x="328.85" y="581.61" width="0.90" height="5.80" fill="#333" />
<rect x="328.20" y="581.21" width="2.20" height="0.80" fill="#333" />
<rect x="330.70" y="591.12" width="2.80" height="23.38" fill="#3d3d3d" />
<rect x="331.65" y="583.86" width="0.90" height="7.26" fill="#333" />
<rect x="331.00" y="583.46" width="2.20" height="0.80" fill="#333" />
<rect x="375.40" y="560.80" width="2.50" height="53.70" fill="#ffffff" />
<rect x="376.20" y="540.33" width="0.90" height="20.48" fill="#333" />
<rect x="375.55" y="539.93" width="2.20" height="0.80" fill="#333" />
<rect x="377.90" y="553.23" width="2.40" height="61.27" fill="#3d3d3d" />
<rect x="378.65" y="543.55" width="0.90" height="9.68" fill="#333" />
<rect x="378.00" y="543.15" width="2.20" height="0.80" fill="#333" />
<rect x="400.50" y="485.50" width="3.00" height="129.00" fill="#ffffff" />
<rect x="403.50" y="485.50" width="2.40" height="129.00" fill="#3d3d3d" />
<rect x="414.50" y="485.50" width="2.40" height="129.00" fill="#ffffff" />
<rect x="416.90" y="485.50" width="2.40" height="129.00" fill="#3d3d3d" />
<rect x="429.60" y="485.50" width="2.70" height="129.00" fill="#ffffff" />
<rect x="432.30" y="485.50" width="2.40" height="129.00" fill="#3d3d3d" />
<rect x="28.5" y="485.5" width="430.0" height="129.0" fill="none" stroke="#2a2a2a" stroke-width="1.2"/>
<text x="18.84" y="585.65" font-size="9.4" font-weight="normal" fill="#111">2</text>
<text x="18.65" y="553.40" font-size="9.4" font-weight="normal" fill="#111">4</text>
<text x="18.79" y="521.15" font-size="9.4" font-weight="normal" fill="#111">6</text>
<text x="18.78" y="488.90" font-size="9.4" font-weight="normal" fill="#111">8</text>
<text x="-0.93" y="0" font-size="10.4" fill="#111" textLength="82.82" lengthAdjust="spacingAndGlyphs" transform="translate(10 590.80) rotate(-90)">Fold Enrichment</text>
<text x="346.28" y="369.40" font-size="9.5" font-weight="normal" fill="#111" textLength="24.59" lengthAdjust="spacingAndGlyphs" >H3Ac</text>
<text x="342.04" y="503.50" font-size="9.4" font-weight="normal" fill="#111" textLength="35.97" lengthAdjust="spacingAndGlyphs" >H3K4Me</text>
<text x="378.48" y="507.40" font-size="8" font-weight="normal" fill="#111" textLength="4.64" lengthAdjust="spacingAndGlyphs" >2</text>
<text x="479.88" y="451.70" font-size="8.1" font-weight="normal" fill="#111" textLength="23.10" lengthAdjust="spacingAndGlyphs" >E14.5</text>
<text x="470.98" y="462.30" font-size="8.6" font-weight="normal" fill="#111" textLength="40.76" lengthAdjust="spacingAndGlyphs" >Fetal Liver</text>
<rect x="463.50" y="473.10" width="16.00" height="16.00" fill="#fff" stroke="#888" stroke-width="1"/>
<text x="494.13" y="479.20" font-size="8.4" font-weight="normal" fill="#111" textLength="14.69" lengthAdjust="spacingAndGlyphs" >Δεy</text>
<text x="495.79" y="489.50" font-size="8.4" font-weight="normal" fill="#111" textLength="10.99" lengthAdjust="spacingAndGlyphs" >Pr.</text>
<rect x="463.90" y="505.30" width="16.00" height="15.60" fill="#3d3d3d" />
<text x="492.08" y="510.20" font-size="8.4" font-weight="normal" fill="#111" textLength="17.48" lengthAdjust="spacingAndGlyphs" >Δβh1</text>
<text x="495.79" y="520.50" font-size="8.4" font-weight="normal" fill="#111" textLength="10.99" lengthAdjust="spacingAndGlyphs" >Pr.</text>
</svg>
</body></html>
